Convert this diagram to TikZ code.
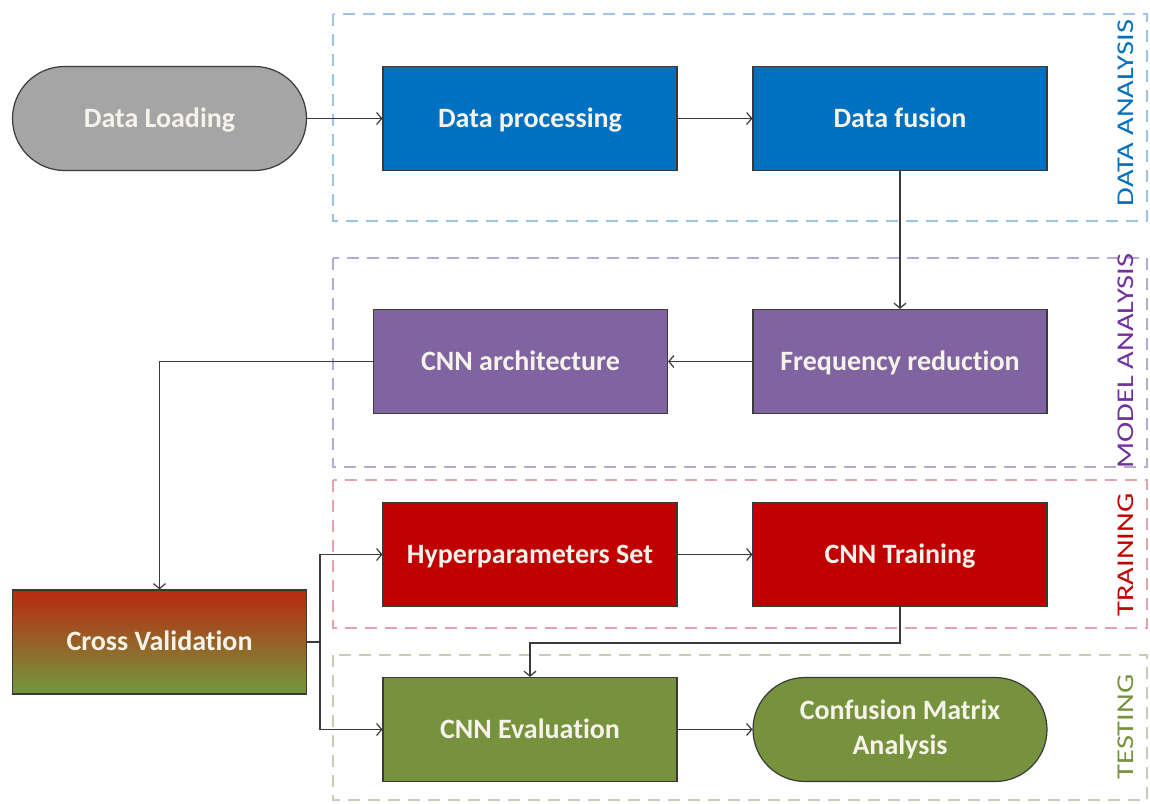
\documentclass[tikz,border=0pt]{standalone}
\usepackage{fontspec}
\setmainfont[RawFeature={-liga}]{Carlito}
\usetikzlibrary{arrows.meta,positioning,calc}
\definecolor{cgray}{HTML}{A5A5A5}
\definecolor{cblue}{HTML}{0070C0}
\definecolor{cpurple}{HTML}{8064A2}
\definecolor{cred}{HTML}{C00000}
\definecolor{cgreen}{HTML}{76923C}
\definecolor{cvred}{HTML}{C41A08}
\definecolor{cvgreen}{HTML}{77923C}
\definecolor{txt}{HTML}{F6F3EA}
\definecolor{edge}{HTML}{3A3A3A}
\definecolor{dblue}{HTML}{9DC3E6}
\definecolor{dpurple}{HTML}{B8A9D3}
\definecolor{dred}{HTML}{E6A2AA}
\definecolor{dgreen}{HTML}{C8CCB4}
\definecolor{lblue}{HTML}{0070C0}
\definecolor{lpurple}{HTML}{7030A0}
\definecolor{lred}{HTML}{C00000}
\definecolor{lgreen}{HTML}{76923C}
\pgfdeclareverticalshading{cvshade}{100bp}{color(0bp)=(cvgreen); color(28bp)=(cvgreen); color(82bp)=(cvred); color(100bp)=(cvred)}
\tikzset{
  basebox/.style={draw=edge, line width=1.2pt, minimum width=294pt, minimum height=104pt,
    inner sep=0pt, text=txt, font=\fontsize{28}{35}\selectfont\bfseries, align=center},
  box/.style={basebox, text height=20pt, text depth=2.5pt},
  term/.style={box, rounded corners=52pt},
  term2/.style={basebox, rounded corners=52pt},
  arr/.style={draw=edge, line width=1.2pt, -{Straight Barb[length=5pt,width=12pt,line width=1.2pt]}},
  plain/.style={draw=edge, line width=1.2pt},
  region/.style={line width=1.2pt, dash pattern=on 12pt off 8pt},
  rlabel/.style={rotate=90, inner sep=0pt, font=\fontsize{24}{28}\selectfont}
}
\begin{document}
\begin{tikzpicture}[x=1pt,y=-1pt]
\useasboundingbox[fill=white] (0,0) rectangle (1150,803);
% regions
\draw[region, dblue]   (333,14)  rectangle (1147,221);
\draw[region, dpurple] (333,258) rectangle (1147,467);
\draw[region, dred]    (333,480) rectangle (1147,628);
\draw[region, dgreen]  (333,655) rectangle (1147,800);
\node[rlabel, text=lblue]   (lda) at (1126,113) {\scalebox{1.27}[1]{DATA ANALYSIS}};
\node[rlabel, text=lpurple] (lma) at (1126,361) {\scalebox{1.27}[1]{MODEL ANALYSIS}};
\node[rlabel, text=lred]    (ltr) at (1126,555) {\scalebox{1.27}[1]{TRAINING}};
\node[rlabel, text=lgreen]  (lte) at (1126,727) {\scalebox{1.27}[1]{TESTING}};
% nodes
\node[term, fill=cgray] (load) at (159.5,118.5) {Data Loading};
\node[box, fill=cblue] (proc) at (530,118.5) {Data processing};
\node[box, fill=cblue] (fusion) at (900,118.5) {Data fusion};
\node[box, fill=cpurple] (freq) at (900,361.5) {Frequency reduction};
\node[box, fill=cpurple] (arch) at (520.5,361.5) {CNN architecture};
\node[box, fill=cred] (hyper) at (530,554.5) {Hyperparameters Set};
\node[box, fill=cred] (train) at (900,554.5) {CNN Training};
\node[box, shading=cvshade] (cv) at (159.5,642) {Cross Validation};
\node[box, fill=cgreen] (eval) at (530,729.5) {CNN Evaluation};
\node[term2, fill=cgreen] (conf) at (900,729.5) {Confusion Matrix\\Analysis};
% connectors
\coordinate (split) at (320,642);
\coordinate (tb) at (900,643);
\draw[arr] (load.east) -- (proc.west);
\draw[arr] (proc.east) -- (fusion.west);
\draw[arr] (fusion.south) -- (freq.north);
\draw[arr] (freq.west) -- (arch.east);
\draw[arr] (arch.west) -| (cv.north);
\draw[plain] (cv.east) -- (split);
\draw[arr] (split) |- (hyper.west);
\draw[arr] (split) |- (eval.west);
\draw[arr] (hyper.east) -- (train.west);
\draw[arr] (train.south) -- (tb) -| (eval.north);
\draw[arr] (eval.east) -- (conf.west);
\end{tikzpicture}
\end{document}
